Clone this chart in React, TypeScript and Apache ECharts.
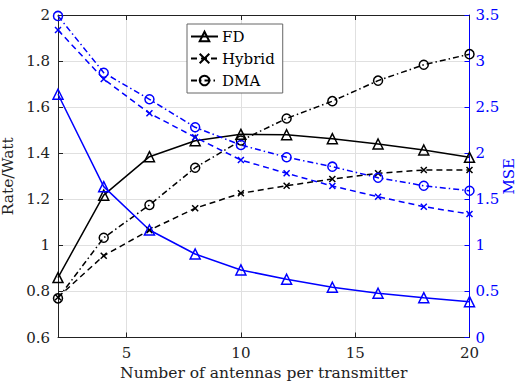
import React, { useEffect, useRef } from "react";
import * as echarts from "echarts";

const antennas = [2, 4, 6, 8, 10, 12, 14, 16, 18, 20];
const rateFD = [0.86, 1.218, 1.385, 1.454, 1.482, 1.48, 1.463, 1.44, 1.414, 1.382];
const rateHybrid = [0.775, 0.955, 1.066, 1.161, 1.226, 1.259, 1.288, 1.313, 1.327, 1.327];
const rateDMA = [0.77, 1.033, 1.175, 1.337, 1.455, 1.551, 1.626, 1.715, 1.784, 1.83];
const mseFD = [2.64, 1.637, 1.167, 0.906, 0.733, 0.632, 0.545, 0.48, 0.432, 0.389];
const mseHybrid = [3.337, 2.805, 2.433, 2.173, 1.926, 1.782, 1.644, 1.528, 1.42, 1.34];
const mseDMA = [3.49, 2.874, 2.585, 2.281, 2.089, 1.956, 1.854, 1.734, 1.647, 1.593];
const xTicks = [5, 10, 15, 20];

const FONT = "DejaVu Serif";
const BLUE = "#0000ff";
const XMARK = "path://M0,0L10,10M10,0L0,10";

function pairs(ys: number[]) {
  return antennas.map((x, i) => [x, ys[i]]);
}

function mk(name: string, data: number[], color: string, axis: number, kind: string, legend: boolean) {
  const symbol = kind === "FD" ? "triangle" : kind === "Hybrid" ? XMARK : "circle";
  const size = kind === "FD" ? 10 : kind === "Hybrid" ? 6 : 9;
  const type: any = kind === "FD" ? "solid" : kind === "Hybrid" ? [6, 4] : [6, 3, 1.5, 3];
  return {
    name: legend ? name : name + " MSE",
    type: "line",
    yAxisIndex: axis,
    xAxisIndex: 0,
    data: pairs(data),
    symbol,
    symbolSize: size,
    showSymbol: true,
    lineStyle: { color, width: 1.5, type },
    itemStyle: { color: "rgba(255,255,255,0)", borderColor: color, borderWidth: 1.5 },
    emphasis: { disabled: true },
    z: 3,
  };
}

export default function App() {
  const ref = useRef<HTMLDivElement>(null);
  useEffect(() => {
    if (!ref.current) return;
    const chart = echarts.init(ref.current, undefined, { renderer: "svg" });
    const axisFont = { fontFamily: FONT, fontSize: 15 };
    chart.setOption({
      animation: false,
      backgroundColor: "#fff",
      grid: { left: 58, right: 49.5, top: 15, bottom: 43.5, containLabel: false, outerBoundsMode: "none" },
      legend: {
        data: ["FD", "Hybrid", "DMA"],
        orient: "vertical",
        left: 187,
        top: 24,
        itemWidth: 27,
        itemHeight: 12,
        itemGap: 7,
        padding: [5, 8, 5, 3],
        borderColor: "#666",
        borderWidth: 1,
        backgroundColor: "#fff",
        textStyle: { fontFamily: FONT, fontSize: 15, color: "#000", padding: [0, 0, 0, -1] },
      },
      xAxis: [
        {
          type: "value",
          min: 2,
          max: 20,
          name: "Number of antennas per transmitter",
          nameLocation: "middle",
          nameGap: 27,
          nameMoveOverlap: false,
          nameTextStyle: { fontFamily: FONT, fontSize: 15.5, color: "#222" },
          axisLine: { lineStyle: { color: "#222", width: 1 } },
          axisTick: { inside: true, length: 5, customValues: xTicks, lineStyle: { color: "#222" } },
          axisLabel: { customValues: xTicks, color: "#222", ...axisFont, margin: 8 },
          splitLine: { show: true, lineStyle: { color: "#e0e0e0", width: 1 } },
        },
        {
          type: "value",
          min: 2,
          max: 20,
          position: "top",
          axisLine: { show: true, lineStyle: { color: "#222", width: 1 } },
          axisTick: { inside: true, length: 5, customValues: xTicks, lineStyle: { color: "#222" } },
          axisLabel: { show: false },
          splitLine: { show: false },
        },
      ],
      yAxis: [
        {
          type: "value",
          min: 0.6,
          max: 2,
          interval: 0.2,
          name: "Rate/Watt",
          nameLocation: "middle",
          nameGap: 42,
          nameMoveOverlap: false,
          nameTextStyle: { fontFamily: FONT, fontSize: 15.5, color: "#222" },
          axisLine: { show: true, lineStyle: { color: "#222", width: 1 } },
          axisTick: { show: true, inside: true, length: 5, lineStyle: { color: "#222" } },
          axisLabel: {
            color: "#222",
            ...axisFont,
            margin: 8,
            formatter: (v: number) => (Math.round(v * 10) / 10).toString(),
          },
          splitLine: { show: true, lineStyle: { color: "#e0e0e0", width: 1 } },
        },
        {
          type: "value",
          min: 0,
          max: 3.5,
          interval: 0.5,
          position: "right",
          name: "MSE",
          nameLocation: "middle",
          nameGap: 32,
          nameMoveOverlap: false,
          nameTextStyle: { fontFamily: FONT, fontSize: 15, color: BLUE },
          axisLine: { show: true, lineStyle: { color: BLUE, width: 1 } },
          axisTick: { show: true, inside: true, length: 5, lineStyle: { color: BLUE } },
          axisLabel: { color: BLUE, ...axisFont, margin: 6 },
          splitLine: { show: false },
        },
      ],
      series: [
        mk("FD", rateFD, "#000", 0, "FD", true),
        mk("Hybrid", rateHybrid, "#000", 0, "Hybrid", true),
        mk("DMA", rateDMA, "#000", 0, "DMA", true),
        mk("FD", mseFD, BLUE, 1, "FD", false),
        mk("Hybrid", mseHybrid, BLUE, 1, "Hybrid", false),
        mk("DMA", mseDMA, BLUE, 1, "DMA", false),
      ],
    });
    return () => chart.dispose();
  }, []);
  return <div ref={ref} style={{ width: 519, height: 381, position: "absolute", left: 0, top: 0 }} />;
}
